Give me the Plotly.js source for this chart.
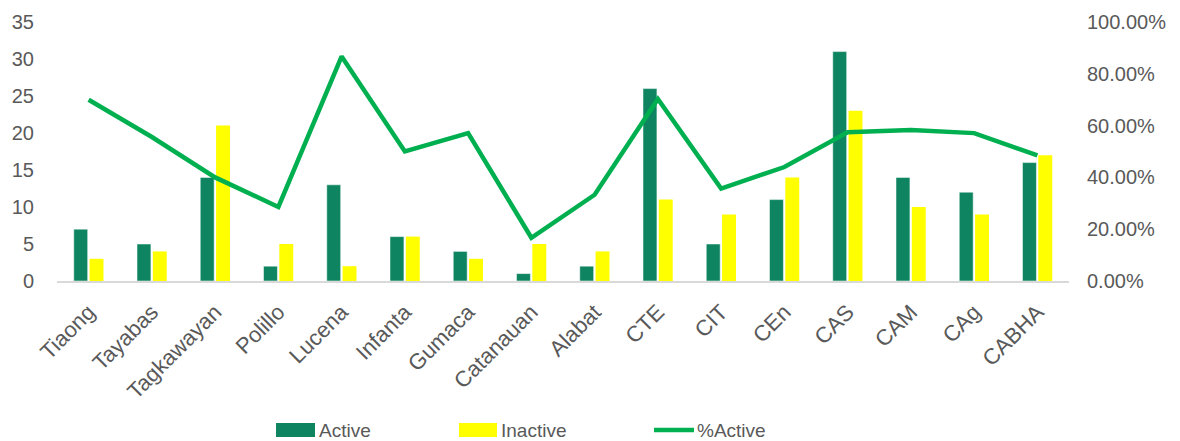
<!DOCTYPE html>
<html><head><meta charset="utf-8">
<script src="https://cdn.plot.ly/plotly-3.0.1.min.js"></script>
<style>html,body{margin:0;padding:0;background:#fff;}#chart{width:1180px;height:441px;}</style>
</head><body><div id="chart"></div>
<script>
const categories = ["Tiaong","Tayabas","Tagkawayan","Polillo","Lucena","Infanta","Gumaca","Catanauan","Alabat","CTE","CIT","CEn","CAS","CAM","CAg","CABHA"];
const active = [7,5,14,2,13,6,4,1,2,26,5,11,31,14,12,16];
const inactive = [3,4,21,5,2,6,3,5,4,11,9,14,23,10,9,17];
const pctActive = [0.70,0.556,0.40,0.286,0.867,0.50,0.571,0.167,0.333,0.703,0.357,0.44,0.574,0.583,0.571,0.485];
const seriesNames = ["Active","Inactive","%Active"];
const colors = ["#0E8560","#FFFF00","#00B050"];

const fam = "Liberation Sans, Arial, sans-serif";
const data = [
  {type:"bar", name:seriesNames[0], x:categories, y:active, marker:{color:colors[0], line:{color:"#ffffff",width:0.5}}},
  {type:"bar", name:seriesNames[1], x:categories, y:inactive, marker:{color:colors[1]}},
  {type:"scatter", mode:"lines", name:seriesNames[2], x:categories, y:pctActive, yaxis:"y2", line:{color:colors[2], width:4.5}}
];
const W = 1180, H = 441, ml = 57, mr = 111, mt = 22, mb = 160;
const pw = W-ml-mr, ph = H-mt-mb;
const px = x => (x-ml)/pw;
const py = y => (H-mb-y)/ph;
const shapes = [
  {type:"rect", xref:"paper", yref:"paper", x0:px(276), x1:px(315), y0:py(437), y1:py(423), fillcolor:colors[0], line:{width:0}},
  {type:"rect", xref:"paper", yref:"paper", x0:px(459), x1:px(497), y0:py(437), y1:py(423), fillcolor:colors[1], line:{width:0}},
  {type:"line", xref:"paper", yref:"paper", x0:px(654), x1:px(694), y0:py(430), y1:py(430), line:{color:colors[2], width:4.5}}
];
const annotations = [
  {text:seriesNames[0], x:px(317), y:py(430)},
  {text:seriesNames[1], x:px(499), y:py(430)},
  {text:seriesNames[2], x:px(695), y:py(430)}
].map(a => Object.assign({xref:"paper", yref:"paper", xanchor:"left", yanchor:"middle", showarrow:false, font:{family:fam, size:19, color:"#595959"}}, a));

const layout = {
  width:W, height:H,
  margin:{l:ml, r:mr, t:mt, b:mb},
  paper_bgcolor:"#fff", plot_bgcolor:"#fff",
  font:{family:fam, color:"#595959", size:20},
  barmode:"group", bargap:0.5, bargroupgap:0.12,
  showlegend:false,
  shapes:shapes, annotations:annotations,
  xaxis:{tickangle:-45, automargin:false, showline:true, linecolor:"#d9d9d9", linewidth:1.5, ticks:"", showgrid:false, tickfont:{size:22}, ticklabelstandoff:8},
  yaxis:{range:[0,35], dtick:5, automargin:false, showgrid:false, zeroline:false, showline:false, tickfont:{size:20}, ticks:"", ticklabelstandoff:22},
  yaxis2:{overlaying:"y", side:"right", automargin:false, range:[0,1], dtick:0.2, tickformat:".2%", showgrid:false, zeroline:false, showline:false, tickfont:{size:20}, ticklabelstandoff:17}
};
Plotly.newPlot("chart", data, layout, {displayModeBar:false, staticPlot:true});
</script></body></html>
